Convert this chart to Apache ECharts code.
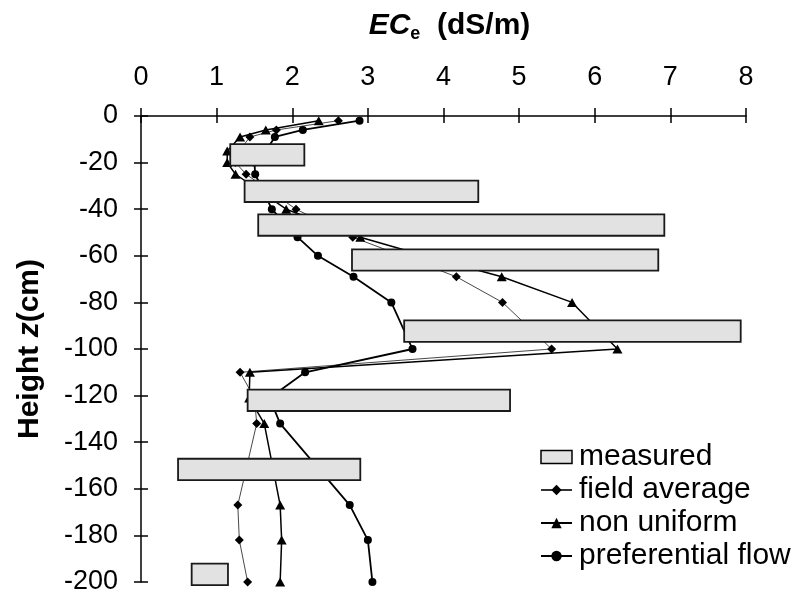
<!DOCTYPE html>
<html>
<head>
<meta charset="utf-8">
<script src="https://cdn.jsdelivr.net/npm/echarts@6/dist/echarts.min.js"></script>
<style>
  html, body { margin: 0; padding: 0; background: #fff; }
  #chart { width: 801px; height: 599px; }
</style>
</head>
<body>
<div id="chart"></div>
<script>
// Axis ranges and tick steps
const ecRange = [0, 8];
const ecStep = 1;
const depthRange = [-200, 0];
const depthStep = 20;

// Measured EC_e ranges per sampling layer (centre depth, min, max)
const barDepths = [-16.7, -32.3, -46.8, -61.8, -92.3, -122.0, -151.7, -196.7];
const barMin    = [1.18, 1.37, 1.55, 2.79, 3.48, 1.41, 0.49, 0.67];
const barMax    = [2.16, 4.46, 6.92, 6.84, 7.93, 4.88, 2.90, 1.15];

// Simulated profiles (depth in cm, EC_e in dS/m)
const depths = [-2, -6, -9, -15, -20, -25, -40, -52, -60, -69, -80, -100, -110, -121, -132, -167, -182, -200];
const fieldAverage = [2.61, 1.79, 1.44, 1.30, 1.25, 1.39, 2.05, 2.80, 3.45, 4.17, 4.78, 5.43, 1.31, 1.50, 1.53, 1.28, 1.30, 1.41];
const nonUniform   = [2.35, 1.65, 1.31, 1.14, 1.14, 1.25, 1.92, 2.90, 3.75, 4.77, 5.70, 6.30, 1.44, 1.43, 1.63, 1.84, 1.86, 1.84];
const preferential = [2.89, 2.14, 1.77, 1.65, 1.50, 1.51, 1.73, 2.07, 2.34, 2.81, 3.31, 3.59, 2.17, 1.70, 1.84, 2.76, 3.00, 3.06];

const FONT = "'Liberation Sans', Arial, sans-serif";
const LAYER_THICKNESS = 9.2; // cm, drawn height of each measured layer

const measuredData = barDepths.map((d, i) => [d, barMin[i], barMax[i]]);
const toPoints = vals => vals.map((v, i) => [v, depths[i]]);

const chart = echarts.init(document.getElementById('chart'), null, { renderer: 'canvas' });

const axisLineStyle = { color: '#000', width: 1.5 };

chart.setOption({
  animation: false,
  backgroundColor: '#fff',
  grid: { left: 141, right: 55, top: 116, bottom: 17, containLabel: false },
  xAxis: [
    {
      type: 'value', position: 'top',
      min: ecRange[0], max: ecRange[1], interval: ecStep,
      axisLine: { show: true, onZero: false, lineStyle: axisLineStyle },
      axisTick: { show: true, inside: false, length: 8, lineStyle: axisLineStyle },
      axisLabel: { color: '#000', fontFamily: FONT, fontSize: 27, margin: 25 },
      splitLine: { show: false },
      name: '{i|EC}{s|e}{b|  (dS/m)}',
      nameLocation: 'middle',
      nameGap: 73,
      nameTextStyle: {
        padding: [0, 0, 0, 12],
        rich: {
          i: { fontFamily: FONT, fontSize: 30, fontWeight: 'bold', fontStyle: 'italic', color: '#000', lineHeight: 34 },
          s: { fontFamily: FONT, fontSize: 18, fontWeight: 'bold', color: '#000', lineHeight: 14, verticalAlign: 'bottom' },
          b: { fontFamily: FONT, fontSize: 30, fontWeight: 'bold', color: '#000', lineHeight: 34 }
        }
      }
    },
    {
      type: 'value', position: 'top',
      min: ecRange[0], max: ecRange[1], interval: ecStep,
      axisLine: { show: false },
      axisTick: { show: true, inside: true, length: 7, lineStyle: axisLineStyle },
      axisLabel: { show: false },
      splitLine: { show: false }
    }
  ],
  yAxis: [
    {
      type: 'value', position: 'left',
      min: depthRange[0], max: depthRange[1], interval: depthStep,
      axisLine: { show: true, onZero: false, lineStyle: axisLineStyle },
      axisTick: { show: true, inside: false, length: 7, lineStyle: axisLineStyle },
      axisLabel: { color: '#000', fontFamily: FONT, fontSize: 27, margin: 23 },
      splitLine: { show: false },
      name: '{b|Height }{i|z}{b|(cm)}',
      nameLocation: 'middle',
      nameGap: 96,
      nameRotate: 90,
      nameTextStyle: {
        rich: {
          b: { fontFamily: FONT, fontSize: 30, fontWeight: 'bold', color: '#000' },
          i: { fontFamily: FONT, fontSize: 30, fontWeight: 'bold', fontStyle: 'italic', color: '#000' }
        }
      }
    },
    {
      type: 'value', position: 'left',
      min: depthRange[0], max: depthRange[1], interval: depthStep,
      axisLine: { show: false },
      axisTick: { show: true, inside: true, length: 7, lineStyle: axisLineStyle },
      axisLabel: { show: false },
      splitLine: { show: false }
    }
  ],
  legend: {
    orient: 'vertical',
    left: 535,
    top: 437,
    itemWidth: 31,
    itemHeight: 13,
    itemGap: 3,
    textStyle: { fontFamily: FONT, fontSize: 30, color: '#000', padding: [0, 0, 0, 2] },
    data: [
      { name: 'measured', icon: 'rect', itemStyle: { color: '#e2e2e2', borderColor: '#000', borderWidth: 1.5 } },
      { name: 'field average' },
      { name: 'non uniform' },
      { name: 'preferential flow' }
    ]
  },
  series: [
    {
      name: 'field average',
      type: 'line',
      xAxisIndex: 0, yAxisIndex: 0,
      data: toPoints(fieldAverage),
      symbol: 'diamond', symbolSize: 9,
      lineStyle: { color: '#333', width: 0.9 },
      itemStyle: { color: '#000' },
      z: 2
    },
    {
      name: 'non uniform',
      type: 'line',
      xAxisIndex: 0, yAxisIndex: 0,
      data: toPoints(nonUniform),
      symbol: 'triangle', symbolSize: [10, 9],
      lineStyle: { color: '#000', width: 1.5 },
      itemStyle: { color: '#000' },
      z: 2
    },
    {
      name: 'preferential flow',
      type: 'line',
      xAxisIndex: 0, yAxisIndex: 0,
      data: toPoints(preferential),
      symbol: 'circle', symbolSize: 8,
      lineStyle: { color: '#000', width: 1.8 },
      itemStyle: { color: '#000' },
      z: 2
    },
    {
      name: 'measured',
      type: 'custom',
      xAxisIndex: 0, yAxisIndex: 0,
      data: measuredData,
      encode: { x: [1, 2], y: 0 },
      itemStyle: { color: '#e2e2e2', borderColor: '#000', borderWidth: 1.5 },
      z: 5,
      renderItem: function (params, api) {
        const depth = api.value(0);
        const lo = api.coord([api.value(1), depth]);
        const hi = api.coord([api.value(2), depth]);
        const h = api.size([0, LAYER_THICKNESS])[1];
        return {
          type: 'rect',
          shape: { x: lo[0], y: lo[1] - h / 2, width: hi[0] - lo[0], height: h },
          style: { fill: '#e2e2e2', stroke: '#1a1a1a', lineWidth: 1.8 }
        };
      }
    }
  ]
});
</script>
</body>
</html>
